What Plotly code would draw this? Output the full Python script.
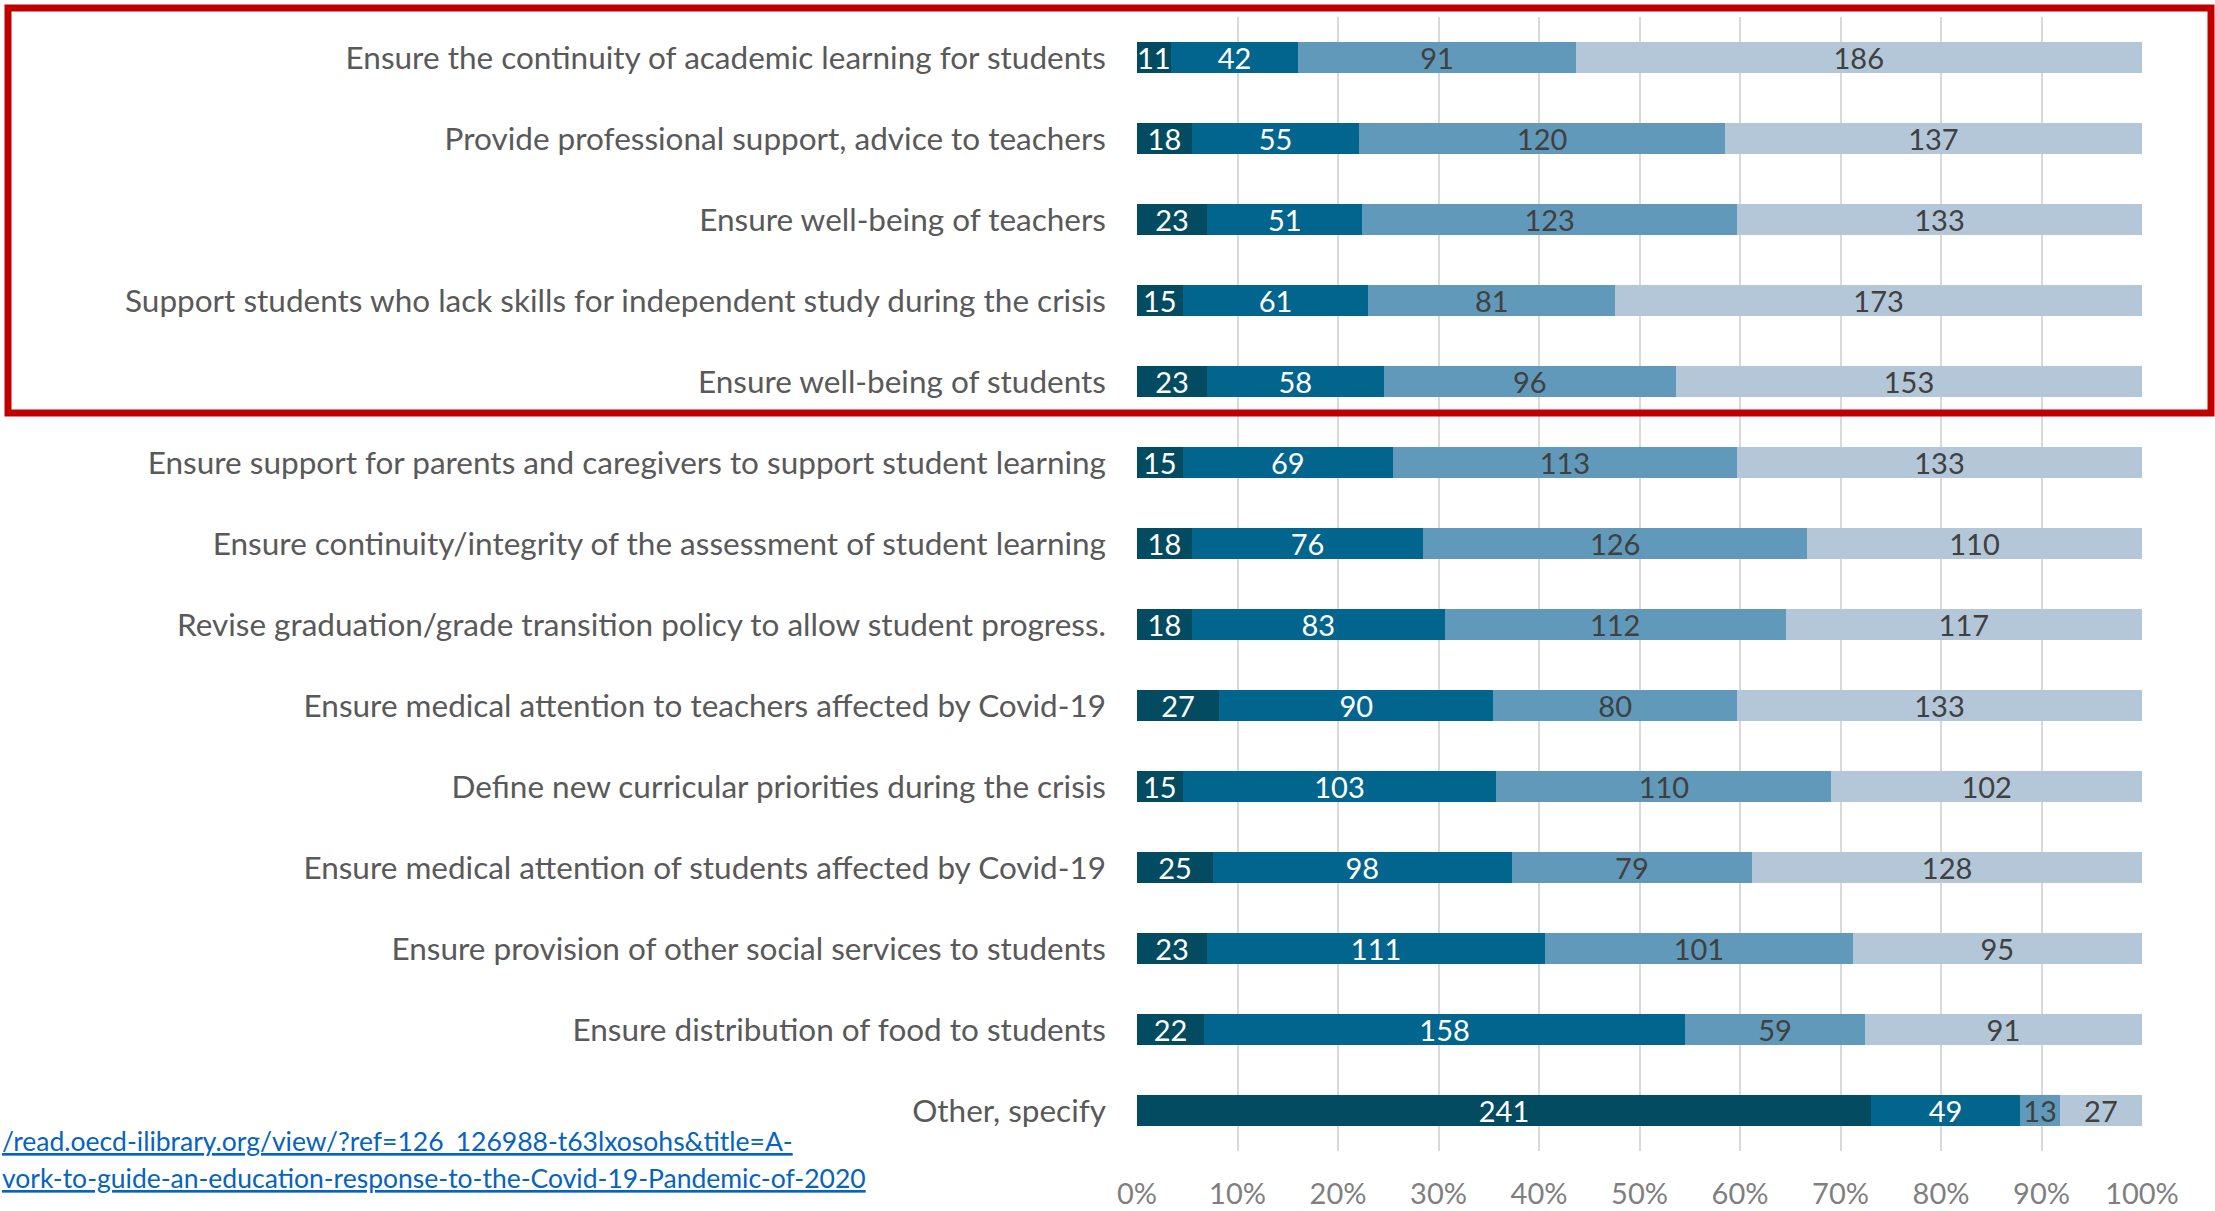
import plotly.graph_objects as go

# Priorities, listed top to bottom
categories = [
    "Ensure the continuity of academic learning for students",
    "Provide professional support, advice to teachers",
    "Ensure well-being of teachers",
    "Support students who lack skills for independent study during the crisis",
    "Ensure well-being of students",
    "Ensure support for parents and caregivers to support student learning",
    "Ensure continuity/integrity of the assessment of student learning",
    "Revise graduation/grade transition policy to allow student progress.",
    "Ensure medical attention to teachers affected by Covid-19",
    "Define new curricular priorities during the crisis",
    "Ensure medical attention of students affected by Covid-19",
    "Ensure provision of other social services to students",
    "Ensure distribution of food to students",
    "Other, specify",
]

# Response counts per priority, one list per stacked segment (left to right)
seg1 = [11, 18, 23, 15, 23, 15, 18, 18, 27, 15, 25, 23, 22, 241]
seg2 = [42, 55, 51, 61, 58, 69, 76, 83, 90, 103, 98, 111, 158, 49]
seg3 = [91, 120, 123, 81, 96, 113, 126, 112, 80, 110, 79, 101, 59, 13]
seg4 = [186, 137, 133, 173, 153, 133, 110, 117, 133, 102, 128, 95, 91, 27]

x_ticks = [0, 10, 20, 30, 40, 50, 60, 70, 80, 90, 100]
x_tick_labels = ["0%", "10%", "20%", "30%", "40%", "50%",
                 "60%", "70%", "80%", "90%", "100%"]

link_line1 = "/read.oecd-ilibrary.org/view/?ref=126_126988-t63lxosohs&title=A-"
link_line2 = "vork-to-guide-an-education-response-to-the-Covid-19-Pandemic-of-2020"

FONT = "Lato, 'Open Sans', sans-serif"
W, H = 2215, 1211
L, R, T, B = 1137, 73, 17, 60
PW, PH = W - L - R, H - T - B


def px_x(px):
    return (px - L) / PW


def px_y(py):
    return (H - B - py) / PH


series = [
    ("seg1", seg1, "#034b60", "#ffffff"),
    ("seg2", seg2, "#02658e", "#ffffff"),
    ("seg3", seg3, "#6199ba", "#404040"),
    ("seg4", seg4, "#b3c7d9", "#404040"),
]

fig = go.Figure()
for name, vals, color, tcolor in series:
    fig.add_trace(go.Bar(
        y=categories,
        x=vals,
        name=name,
        orientation="h",
        marker=dict(color=color, line=dict(width=0)),
        text=[str(v) for v in vals],
        textposition="inside",
        insidetextanchor="middle",
        textangle=0,
        constraintext="none",
        textfont=dict(family=FONT, size=29, color=tcolor),
        showlegend=False,
    ))

fig.update_layout(
    width=W,
    height=H,
    margin=dict(l=L, r=R, t=T, b=B, autoexpand=False),
    paper_bgcolor="white",
    plot_bgcolor="white",
    barmode="stack",
    barnorm="percent",
    bargap=0.62,
    font=dict(family=FONT, size=29, color="#595959"),
    xaxis=dict(
        range=[0, 100],
        tickmode="array",
        tickvals=x_ticks,
        ticktext=x_tick_labels,
        showgrid=True,
        gridcolor="#d9d9d9",
        gridwidth=2,
        zeroline=False,
        showline=False,
        ticks="",
        ticklabelstandoff=23,
        automargin=False,
        tickfont=dict(family=FONT, size=29, color="#7f7f7f"),
        fixedrange=True,
    ),
    yaxis=dict(
        categoryorder="array",
        categoryarray=categories,
        autorange="reversed",
        showgrid=False,
        zeroline=False,
        showline=False,
        ticks="",
        ticklabelstandoff=30,
        automargin=False,
        tickfont=dict(family=FONT, size=31.5, color="#595959"),
        fixedrange=True,
    ),
    shapes=[
        dict(
            type="rect",
            xref="paper", yref="paper",
            x0=px_x(8), x1=px_x(2211),
            y0=px_y(413), y1=px_y(8),
            line=dict(color="#c00000", width=7),
            fillcolor="rgba(0,0,0,0)",
            layer="above",
        )
    ],
    annotations=[
        dict(
            text=link_line1,
            xref="paper", yref="paper",
            x=px_x(0), y=px_y(1141),
            xanchor="left", yanchor="middle",
            showarrow=False,
            font=dict(family=FONT, size=26.5, color="#0563c1", lineposition="under"),
        ),
        dict(
            text=link_line2,
            xref="paper", yref="paper",
            x=px_x(0), y=px_y(1178),
            xanchor="left", yanchor="middle",
            showarrow=False,
            font=dict(family=FONT, size=26.5, color="#0563c1", lineposition="under"),
        ),
    ],
)

fig.write_html("out.html")
